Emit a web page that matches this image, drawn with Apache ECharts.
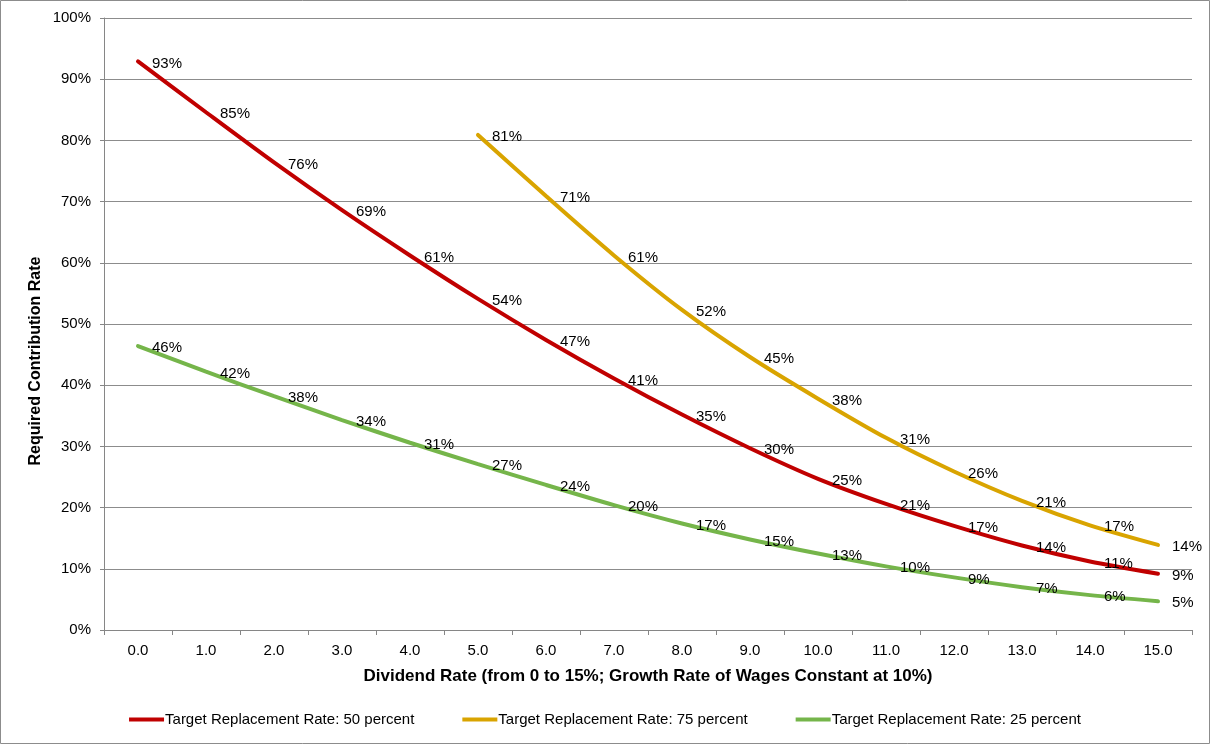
<!DOCTYPE html>
<html><head><meta charset="utf-8">
<script src="https://cdn.jsdelivr.net/npm/echarts@6/dist/echarts.min.js"></script>
<style>html,body{margin:0;padding:0;background:#fff}#c{width:1210px;height:744px}</style>
</head><body><div id="c"></div>
<script>
const categories = ['0.0','1.0','2.0','3.0','4.0','5.0','6.0','7.0','8.0','9.0','10.0','11.0','12.0','13.0','14.0','15.0'];
const rate50 = [92.9,84.6,76.4,68.6,61.2,54.1,47.4,41.1,35.2,29.7,24.7,20.6,17.0,13.8,11.2,9.2];
const rate75 = [null,null,null,null,null,80.9,70.9,61.2,52.3,44.6,37.8,31.4,25.9,21.1,17.1,13.9];
const rate25 = [46.4,42.2,38.2,34.3,30.6,27.1,23.7,20.4,17.4,14.8,12.5,10.4,8.6,7.0,5.7,4.7];
const seriesNames = ['Target Replacement Rate: 50 percent','Target Replacement Rate: 75 percent','Target Replacement Rate: 25 percent'];
const colors = ['#C00000','#D9A400','#75B54A'];
const font = 'Liberation Sans, Arial, sans-serif';

const chart = echarts.init(document.getElementById('c'), null, {renderer:'canvas'});
function mk(name, data, color){
  return {
    name, type:'line', data, smooth:0.25, showSymbol:true, symbol:'circle', symbolSize:0.01,
    lineStyle:{width:4,color, cap:'round'}, itemStyle:{color},
    label:{show:true, position:'right', distance:14, offset:[0,2], color:'#000', fontFamily:font, fontSize:15,
      formatter:p=>Math.round(p.value)+'%'},
    emphasis:{disabled:true}, z:3
  };
}
chart.setOption({
  animation:false,
  textStyle:{fontFamily:font},
  graphic:[
    {type:'rect', shape:{x:0.5,y:0.5,width:1209,height:743}, style:{fill:'none',stroke:'#8c8c8c',lineWidth:1}, z:-1},
    {type:'text', x:36, y:361, rotation:Math.PI/2, style:{text:'Required Contribution Rate', fill:'#000', font:'bold 16px '+font, textAlign:'center', textVerticalAlign:'middle'}}
  ],
  grid:{left:104,right:18,top:18,bottom:114,containLabel:false},
  legend:{bottom:12, left:'center', icon:'rect', itemWidth:35, itemHeight:4, itemGap:48,
    textStyle:{fontSize:15,color:'#000',fontFamily:font, padding:[0,0,0,-4]}, data:seriesNames},
  xAxis:{type:'category', data:categories, boundaryGap:true,
    name:'Dividend Rate (from 0 to 15%; Growth Rate of Wages Constant at 10%)', nameLocation:'middle', nameGap:38,
    nameTextStyle:{fontWeight:'bold',fontSize:17,color:'#000',fontFamily:font},
    axisLine:{lineStyle:{color:'#868686',width:1}},
    axisTick:{show:true,length:5,lineStyle:{color:'#868686'}},
    axisLabel:{color:'#000',fontSize:15,margin:13,fontFamily:font}},
  yAxis:{type:'value', min:0, max:100, interval:10,
    axisLine:{show:true,lineStyle:{color:'#868686',width:1}},
    axisTick:{show:true,length:4,lineStyle:{color:'#868686'}},
    splitLine:{lineStyle:{color:'#8c8c8c',width:1}},
    axisLabel:{color:'#000',fontSize:15,margin:13,formatter:v=>v+'%',fontFamily:font}},
  series:[mk(seriesNames[0],rate50,colors[0]),mk(seriesNames[1],rate75,colors[1]),mk(seriesNames[2],rate25,colors[2])]
});
</script></body></html>
